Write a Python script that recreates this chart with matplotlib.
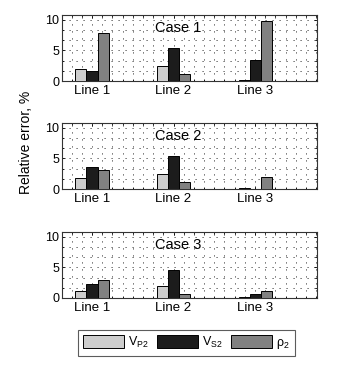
import matplotlib
matplotlib.use("Agg")
import matplotlib.pyplot as plt
from matplotlib.ticker import MultipleLocator
import numpy as np

plt.rcParams['font.family'] = ['Liberation Sans', 'DejaVu Sans']
plt.rcParams['mathtext.fontset'] = 'custom'
plt.rcParams['mathtext.rm'] = 'Liberation Sans'
plt.rcParams['mathtext.it'] = 'Liberation Sans:italic'

categories = ["Line 1", "Line 2", "Line 3"]
cases = ["Case 1", "Case 2", "Case 3"]
series_labels = [r"V$_{\mathrm{P2}}$", r"V$_{\mathrm{S2}}$", r"ρ$_{\mathrm{2}}$"]
series_colors = ["#cdcdcd", "#1c1c1c", "#818181"]

# relative errors (%) per case: rows = Case 1..3 ; columns = Line 1..3
vp2 = [[1.9, 2.4, 0.1],
       [1.8, 2.4, 0.1],
       [1.1, 2.0, 0.15]]
vs2 = [[1.6, 5.4, 3.4],
       [3.6, 5.4, 0.0],
       [2.3, 4.6, 0.7]]
rho2 = [[7.9, 1.2, 9.9],
        [3.1, 1.2, 1.95],
        [2.9, 0.6, 1.1]]

W, H = 342, 373
fig = plt.figure(figsize=(W / 100, H / 100), dpi=100)

left_px, right_px = 62, 317
tops_px = [15, 123, 232]
ax_h_px = 66
bar_w = 0.135
x = np.arange(1, len(categories) + 1)

handles = None
for i, case in enumerate(cases):
    top = tops_px[i]
    ax = fig.add_axes([left_px / W, 1 - (top + ax_h_px) / H,
                       (right_px - left_px) / W, ax_h_px / H])
    data = [vp2[i], vs2[i], rho2[i]]
    hs = []
    for k, vals in enumerate(data):
        h = ax.bar(x + (k - 1) * bar_w, vals, width=bar_w,
                   color=series_colors[k], edgecolor="black",
                   linewidth=0.7, zorder=3, label=series_labels[k])
        hs.append(h)
    handles = hs
    ax.set_xlim(0.632, 3.76)
    ax.set_ylim(0, 10.8)
    ax.set_xticks(x)
    ax.set_xticklabels(categories, fontsize=9.5)
    ax.set_yticks([0, 5, 10])
    ax.tick_params(axis="y", labelsize=9, pad=2)
    ax.tick_params(axis="x", pad=3)
    ax.xaxis.set_minor_locator(MultipleLocator(0.125))
    ax.yaxis.set_minor_locator(MultipleLocator(5 / 3))
    ax.tick_params(which="both", direction="in", top=True, right=True,
                   length=2.5, width=0.6)
    ax.tick_params(which="minor", length=1.5)
    ax.grid(True, which="both", linestyle=(0, (1.2, 6)), color="#444444",
            linewidth=0.7, zorder=0)
    ax.set_axisbelow(True)
    for s in ax.spines.values():
        s.set_linewidth(0.8)
        s.set_color("#333333")
    ax.text(2.06, 8.6, case, ha="center", va="center", fontsize=10.5,
            zorder=4)

fig.text(26 / W, 1 - 142 / H, "Relative error, %", rotation=90,
         ha="center", va="center", fontsize=10)

leg = fig.legend(handles, series_labels, loc="center",
                 bbox_to_anchor=((79 + 294) / 2 / W, 1 - 343 / H),
                 ncol=3, fontsize=9, frameon=True, fancybox=False,
                 edgecolor="#333333", handlelength=3.3, handleheight=1.2,
                 handletextpad=0.32, columnspacing=0.64, borderpad=0.4,
                 borderaxespad=0)
leg.get_frame().set_linewidth(0.8)

fig.savefig("out.png", dpi=100)
